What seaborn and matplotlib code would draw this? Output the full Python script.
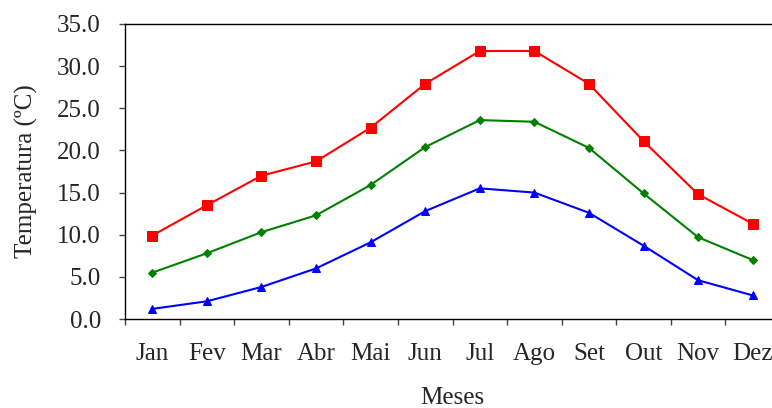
import pandas as pd
import numpy as np
import matplotlib.pyplot as plt
import seaborn as sns

# --- Data (monthly temperatures) ---
MONTHS = ['Jan', 'Fev', 'Mar', 'Abr', 'Mai', 'Jun', 'Jul', 'Ago', 'Set', 'Out', 'Nov', 'Dez']
T_MAX = [9.9, 13.5, 17.0, 18.7, 22.7, 27.9, 31.8, 31.8, 27.9, 21.1, 14.8, 11.3]
T_MED = [5.5, 7.8, 10.3, 12.3, 15.9, 20.4, 23.6, 23.4, 20.3, 14.9, 9.7, 7.0]
T_MIN = [1.2, 2.1, 3.8, 6.0, 9.1, 12.8, 15.5, 15.0, 12.6, 8.7, 4.6, 2.8]

sns.set_style('white')
plt.rcParams['font.family'] = ['Liberation Serif', 'DejaVu Serif']
FS = 18

fig = plt.figure(figsize=(7.72, 4.08), dpi=100)
# plot area runs past the right edge of the picture, as in the original
ax = fig.add_axes([125 / 772, (408 - 319) / 408, 655 / 772, (319 - 24) / 408])

series = [
    (T_MAX, 'red', 's', 6.5),
    (T_MED, 'green', 'D', 4.0),
    (T_MIN, 'blue', '^', 6.0),
]
for vals, col, mk, ms in series:
    sns.lineplot(x=MONTHS, y=vals, ax=ax, color=col, marker=mk, markersize=ms,
                 markeredgecolor=col, linewidth=1.5, sort=False)

ax.set_xlim(-0.5, 11.5)
ax.set_ylim(0, 35)
ax.set_yticks(np.arange(0, 36, 5))
ax.yaxis.set_major_formatter(plt.FuncFormatter(lambda y, p: f'{y:.1f}'))

# Excel-style: tick marks between categories, labels at centres
ax.set_xticks(np.arange(-0.5, 12, 1))
ax.set_xticklabels([])
ax.set_xticks(np.arange(12), minor=True)
ax.set_xticklabels(MONTHS, minor=True)
ax.tick_params(axis='x', which='major', direction='out', length=4.3, width=1, color='#444444', bottom=True)
ax.tick_params(axis='x', which='minor', length=0, pad=17, labelsize=FS)
ax.tick_params(axis='y', direction='out', length=4.3, width=1, color='#444444', left=True, pad=13, labelsize=FS)

for s in ['top', 'left', 'bottom']:
    ax.spines[s].set_color('black')
    ax.spines[s].set_linewidth(1)
ax.spines['right'].set_visible(False)

ax.set_xlabel('Meses', fontsize=FS, labelpad=16)
ax.set_ylabel('Temperatura (ºC)', fontsize=FS, labelpad=14)

fig.savefig('out.png', dpi=100)
